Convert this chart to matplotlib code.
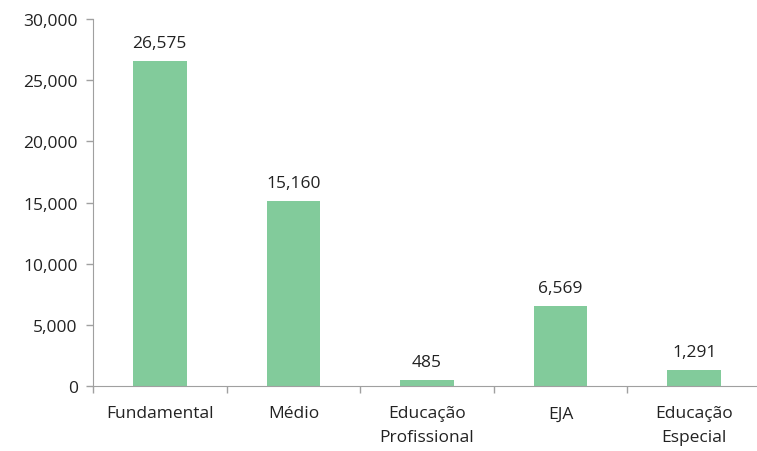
import numpy as np
import matplotlib.pyplot as plt
from matplotlib.ticker import FuncFormatter, FixedLocator

categories = ["Fundamental", "Médio", "Educação\nProfissional", "EJA", "Educação\nEspecial"]
values = [26575, 15160, 485, 6569, 1291]
yticks = [0, 5000, 10000, 15000, 20000, 25000, 30000]

plt.rcParams['font.family'] = ['Open Sans', 'DejaVu Sans']

fig = plt.figure(figsize=(7.57, 4.52), dpi=100)
ax = fig.add_axes([93 / 757, 1 - 387 / 452, (761 - 93) / 757, (387 - 20) / 452])

x = np.arange(len(categories))
ax.bar(x, values, width=0.4, color="#82cb9b")
for xi, v in zip(x, values):
    ax.text(xi, v + 800, f"{v:,}", ha="center", va="bottom", fontsize=12.5, color="#222222")

ax.set_xlim(-0.5, len(categories) - 0.5)
ax.set_ylim(0, 30000)
ax.set_yticks(yticks)
ax.yaxis.set_major_formatter(FuncFormatter(lambda v, p: f"{int(v):,}"))
ax.set_xticks(x)
ax.set_xticklabels(categories, fontsize=12.5, color="#222222", linespacing=1.6)
ax.tick_params(axis="x", length=0, pad=14)
ax.xaxis.set_minor_locator(FixedLocator(np.arange(-0.5, len(categories), 1)))
ax.tick_params(axis="x", which="minor", length=5, color="#a0a0a0", width=1)
ax.tick_params(axis="y", labelsize=12.5, labelcolor="#222222", length=5, color="#a0a0a0", width=1, pad=6)

for s in ["top", "right"]:
    ax.spines[s].set_visible(False)
for s in ["left", "bottom"]:
    ax.spines[s].set_color("#a0a0a0")

fig.savefig("out.png", dpi=100)
